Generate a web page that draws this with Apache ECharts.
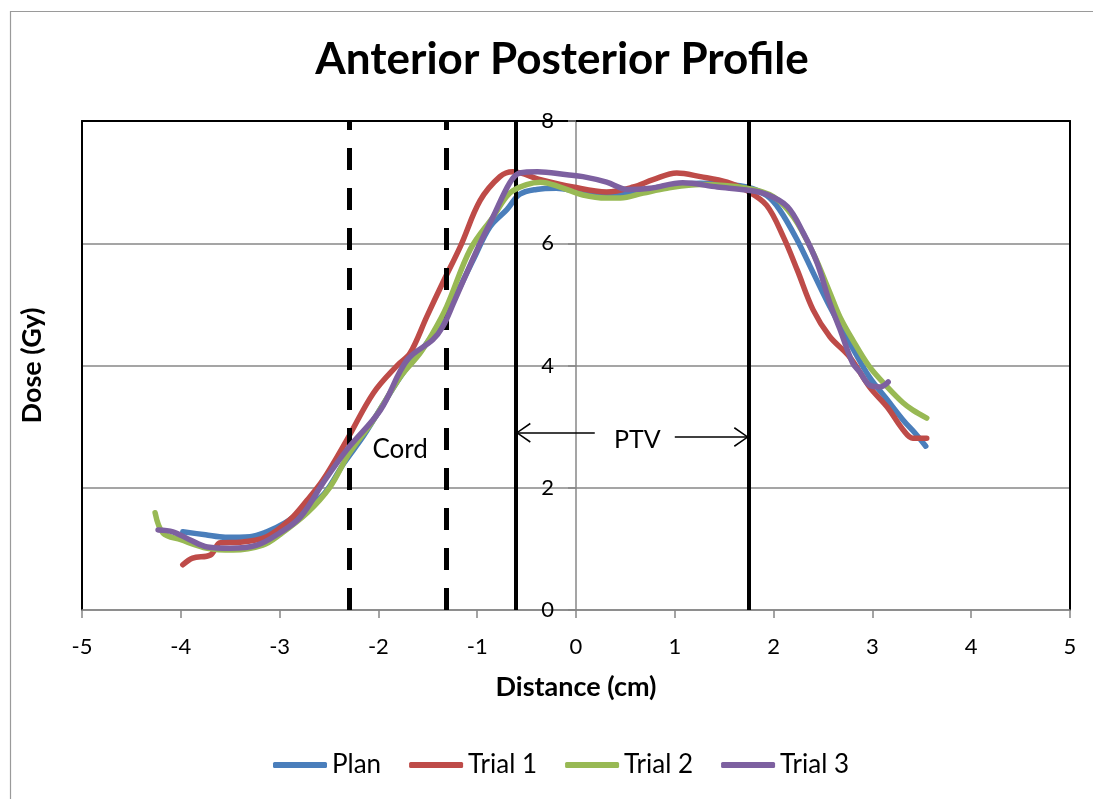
<!DOCTYPE html>
<html>
<head>
<meta charset="utf-8">
<script src="https://cdn.jsdelivr.net/npm/echarts@6/dist/echarts.min.js"></script>
<style>
html,body{margin:0;padding:0;background:#fff;}
#chart{width:1093px;height:799px;}
</style>
</head>
<body>
<div id="chart"></div>
<script>
const seriesNames = ['Plan', 'Trial 1', 'Trial 2', 'Trial 3'];
const seriesColors = ['#4A7EBB', '#BE4B48', '#98B954', '#7D60A0'];

const planX = [-3.98,-3.75,-3.55,-3.3,-3.13,-2.95,-2.75,-2.55,-2.35,-2.15,-1.95,-1.75,-1.55,-1.35,-1.2,-1.04,-0.87,-0.7,-0.57,-0.4,-0.2,0.04,0.37,0.62,0.92,1.26,1.5,1.73,1.93,2.06,2.24,2.4,2.57,2.77,2.97,3.15,3.31,3.45,3.54];
const planY = [1.28,1.23,1.19,1.2,1.28,1.42,1.65,1.9,2.4,2.85,3.37,3.88,4.28,4.75,5.2,5.73,6.27,6.55,6.8,6.88,6.9,6.84,6.8,6.84,6.94,6.98,6.96,6.92,6.78,6.55,6.05,5.52,4.96,4.37,3.81,3.44,3.11,2.86,2.68];

const trial1X = [-3.98,-3.88,-3.7,-3.6,-3.4,-3.13,-2.9,-2.72,-2.56,-2.32,-2.05,-1.81,-1.68,-1.51,-1.35,-1.17,-0.97,-0.77,-0.64,-0.36,-0.03,0.31,0.58,0.78,1.02,1.26,1.53,1.73,1.93,2.1,2.24,2.4,2.57,2.77,2.97,3.15,3.31,3.41,3.55];
const trial1Y = [0.74,0.85,0.9,1.1,1.11,1.2,1.47,1.8,2.13,2.78,3.55,4.0,4.2,4.8,5.35,5.95,6.7,7.09,7.17,7.04,6.92,6.84,6.92,7.04,7.15,7.09,7.0,6.86,6.62,6.1,5.56,4.91,4.47,4.14,3.65,3.32,2.95,2.81,2.81];

const trial2X = [-4.26,-4.18,-4.0,-3.73,-3.47,-3.17,-3.0,-2.72,-2.49,-2.3,-2.05,-1.78,-1.58,-1.45,-1.31,-1.07,-0.84,-0.67,-0.5,-0.36,-0.16,0.07,0.31,0.45,0.68,0.92,1.26,1.73,2.0,2.2,2.4,2.57,2.67,2.8,2.97,3.15,3.31,3.41,3.55];
const trial2Y = [1.59,1.26,1.15,1.01,0.98,1.06,1.23,1.59,2.01,2.55,3.11,3.81,4.2,4.53,4.96,5.9,6.43,6.82,6.96,7.0,6.92,6.79,6.74,6.74,6.82,6.9,6.96,6.9,6.76,6.43,5.84,5.19,4.8,4.42,3.98,3.65,3.39,3.27,3.14];

const trial3X = [-4.23,-4.08,-3.91,-3.73,-3.5,-3.23,-3.0,-2.79,-2.56,-2.32,-1.98,-1.71,-1.45,-1.35,-1.24,-1.0,-0.84,-0.67,-0.57,-0.39,-0.09,0.07,0.31,0.52,0.75,1.08,1.43,1.73,1.93,2.14,2.3,2.44,2.57,2.67,2.8,2.87,2.97,3.08,3.16];
const trial3Y = [1.31,1.28,1.15,1.03,1.01,1.06,1.26,1.52,2.08,2.62,3.27,4.09,4.42,4.63,5.02,5.9,6.43,6.99,7.15,7.17,7.12,7.09,7.0,6.88,6.9,6.99,6.92,6.87,6.8,6.6,6.17,5.68,5.02,4.6,4.04,3.9,3.68,3.65,3.73];

const cordBounds = [-2.30, -1.31];
const ptvBounds = [-0.61, 1.75];
const cordLabel = { text: 'Cord', x: -1.78, y: 2.62 };
const ptvLabel = { text: 'PTV', x: 0.62, y: 2.78 };
const ptvArrowLeft = { from: 0.19, to: -0.61, y: 2.9 };
const ptvArrowRight = { from: 1.0, to: 1.75, y: 2.83 };

const xRange = [-5, 5];
const yRange = [0, 8];

const FONT = 'Lato, "Liberation Sans", sans-serif';
const pairs = (xs, ys) => xs.map((x, i) => [x, ys[i]]);
const allX = [planX, trial1X, trial2X, trial3X];
const allY = [planY, trial1Y, trial2Y, trial3Y];

const chevronLeft = 'path://M0,10 L15,0 L15.9,1.4 L2.6,10 L15.9,18.6 L15,20 Z';
const chevronRight = 'path://M15.9,10 L0.9,0 L0,1.4 L13.3,10 L0,18.6 L0.9,20 Z';

const chart = echarts.init(document.getElementById('chart'), null, { renderer: 'canvas' });

const dataSeries = seriesNames.map((name, i) => ({
  name: name,
  type: 'line',
  xAxisIndex: 0,
  yAxisIndex: 0,
  data: pairs(allX[i], allY[i]),
  smooth: 0.35,
  symbol: 'none',
  showSymbol: false,
  lineStyle: { color: seriesColors[i], width: 5.5, cap: 'round', join: 'round' },
  itemStyle: { color: seriesColors[i] },
  z: 3 + i
}));

const dashed = { color: '#000', width: 5, type: [22, 18] };
const solid = { color: '#000', width: 4, type: 'solid' };
const thin = { color: '#000', width: 1.6, type: 'solid' };

const markSeries = {
  name: '_marks',
  type: 'line',
  xAxisIndex: 0,
  yAxisIndex: 0,
  data: [],
  silent: true,
  z: 10,
  markLine: {
    silent: true,
    animation: false,
    symbol: ['none', 'none'],
    label: { show: false },
    emphasis: { disabled: true },
    data: [
      [{ coord: [cordBounds[0], yRange[0]], lineStyle: dashed }, { coord: [cordBounds[0], yRange[1]], lineStyle: dashed }],
      [{ coord: [cordBounds[1], yRange[0]], lineStyle: dashed }, { coord: [cordBounds[1], yRange[1]], lineStyle: dashed }],
      [{ coord: [ptvBounds[0], yRange[0]], lineStyle: solid }, { coord: [ptvBounds[0], yRange[1]], lineStyle: solid }],
      [{ coord: [ptvBounds[1], yRange[0]], lineStyle: solid }, { coord: [ptvBounds[1], yRange[1]], lineStyle: solid }],
      [{ coord: [ptvArrowLeft.from, ptvArrowLeft.y], lineStyle: thin }, { coord: [ptvArrowLeft.to, ptvArrowLeft.y], lineStyle: thin }],
      [{ coord: [ptvArrowRight.from, ptvArrowRight.y], lineStyle: thin }, { coord: [ptvArrowRight.to, ptvArrowRight.y], lineStyle: thin }]
    ]
  },
  markPoint: {
    silent: true,
    animation: false,
    data: [
      { name: cordLabel.text, coord: [cordLabel.x, cordLabel.y], symbol: 'circle', symbolSize: 0,
        label: { show: true, formatter: '{b}', position: 'inside', color: '#000', fontSize: 26, fontFamily: FONT } },
      { name: ptvLabel.text, coord: [ptvLabel.x, ptvLabel.y], symbol: 'circle', symbolSize: 0,
        label: { show: true, formatter: '{b}', position: 'inside', color: '#000', fontSize: 25, fontFamily: FONT } },
      { name: 'al', coord: [ptvArrowLeft.to, ptvArrowLeft.y], symbol: chevronLeft, symbolSize: [15, 20], symbolOffset: ['50%', 0],
        itemStyle: { color: '#000' }, label: { show: false } },
      { name: 'ar', coord: [ptvArrowRight.to, ptvArrowRight.y], symbol: chevronRight, symbolSize: [15, 20], symbolOffset: ['-50%', 0],
        itemStyle: { color: '#000' }, label: { show: false } }
    ]
  }
};

const option = {
  animation: false,
  backgroundColor: '#fff',
  graphic: [{
    type: 'rect', left: 8, top: 9, silent: true,
    shape: { width: 1200, height: 1000 },
    style: { fill: 'none', stroke: '#9a9a9a', lineWidth: 1.2 }
  }],
  title: {
    text: 'Anterior Posterior Profile',
    left: 557,
    textAlign: 'center',
    top: 33,
    textStyle: { fontFamily: FONT, fontWeight: 'bold', fontSize: 44, color: '#000' }
  },
  legend: {
    data: seriesNames,
    left: 268,
    top: 747,
    icon: 'roundRect',
    itemWidth: 54,
    itemHeight: 6,
    itemGap: 28,
    textStyle: { fontFamily: FONT, fontSize: 26, color: '#000' },
    selectedMode: false
  },
  grid: { left: 82, right: 23, top: 121, bottom: 189, containLabel: false, show: false },
  xAxis: [{
    type: 'value', min: xRange[0], max: xRange[1], interval: 1,
    name: 'Distance (cm)', nameLocation: 'middle', nameGap: 64,
    nameTextStyle: { fontFamily: FONT, fontWeight: 'bold', fontSize: 27, color: '#000' },
    axisLine: { show: true, onZero: true, lineStyle: { color: '#878787', width: 1.5 } },
    axisTick: { show: true, inside: false, length: 8, lineStyle: { color: '#878787', width: 1.5 } },
    axisLabel: { fontFamily: FONT, fontSize: 22, color: '#000', margin: 26 },
    splitLine: { show: false }
  }, {
    type: 'value', min: xRange[0], max: xRange[1], position: 'top',
    axisLine: { show: true, onZero: false, lineStyle: { color: '#000', width: 2 } },
    axisTick: { show: false }, axisLabel: { show: false }, splitLine: { show: false }
  }],
  yAxis: [{
    type: 'value', min: yRange[0], max: yRange[1], interval: 2,
    position: 'left', offset: -494,
    axisLine: { show: true, onZero: false, lineStyle: { color: '#878787', width: 1.5 } },
    axisTick: { show: true, inside: false, length: 8, lineStyle: { color: '#878787', width: 1.5 } },
    axisLabel: { fontFamily: FONT, fontSize: 22, color: '#000', margin: 22 },
    splitLine: { show: true, lineStyle: { color: '#878787', width: 1.5 } }
  }, {
    type: 'value', min: yRange[0], max: yRange[1], position: 'left',
    name: 'Dose (Gy)', nameLocation: 'middle', nameGap: 36, nameRotate: 90,
    nameTextStyle: { fontFamily: FONT, fontWeight: 'bold', fontSize: 27, color: '#000' },
    axisLine: { show: true, onZero: false, lineStyle: { color: '#000', width: 2 } },
    axisTick: { show: false }, axisLabel: { show: false }, splitLine: { show: false }
  }, {
    type: 'value', min: yRange[0], max: yRange[1], position: 'right',
    axisLine: { show: true, onZero: false, lineStyle: { color: '#000', width: 2 } },
    axisTick: { show: false }, axisLabel: { show: false }, splitLine: { show: false }
  }],
  series: dataSeries.concat([markSeries])
};

chart.setOption(option);
</script>
</body>
</html>
